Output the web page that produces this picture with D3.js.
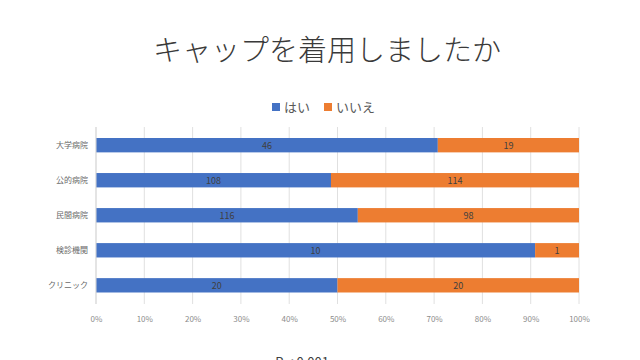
<!DOCTYPE html>
<html><head><meta charset="utf-8">
<script src="https://cdn.jsdelivr.net/npm/d3@7"></script>
<style>body{margin:0;background:#fff}svg{display:block}</style>
</head><body>
<svg id="c" width="640" height="360"></svg>
<script>
const categories = ["大学病院","公的病院","民間病院","検診機関","クリニック"];
const yesValues = [46,108,116,10,20];
const noValues = [19,114,98,1,20];
const seriesNames = ["はい","いいえ"];
const tickValues = [0,0.1,0.2,0.3,0.4,0.5,0.6,0.7,0.8,0.9,1.0];
const title = "キャップを着用しましたか";
const note = "P < 0.001";

const colors = ["#4472C4","#ED7D31"];
const font = "'Noto Sans CJK JP','Noto Sans',sans-serif";
const svg = d3.select("#c").style("font-family", font);

const x = d3.scaleLinear().domain([0,1]).range([96,579]);
const y = d3.scaleBand().domain(categories).range([127.5,303]).paddingInner(0.59).paddingOuter(0.3);

svg.append("text").attr("x",327).attr("y",61).attr("text-anchor","middle")
  .attr("font-family","'Noto Sans CJK JP Light','Noto Sans CJK JP DemiLight','Noto Sans CJK JP',sans-serif")
  .attr("font-size",29).attr("font-weight",300).attr("fill","#3a3a3a").text(title);

// legend
const lg = svg.append("g");
[[272,0],[324,1]].forEach(([lx,i])=>{
  lg.append("rect").attr("x",lx).attr("y",103).attr("width",8).attr("height",8).attr("fill",colors[i]);
  lg.append("text").attr("x",lx+12).attr("y",112).attr("font-size",13).attr("fill","#595959").text(seriesNames[i]);
});

const xAxis = d3.axisBottom(x).tickValues(tickValues).tickFormat(d3.format(".0%")).tickSize(0).tickPadding(12);
const ga = svg.append("g").attr("transform","translate(0,304)").call(xAxis);
ga.select(".domain").remove();
ga.selectAll("text").attr("font-size",8).attr("fill","#8c8c8c").attr("font-family",font);
svg.append("g").selectAll("line").data(tickValues).join("line")
  .attr("x1",d=>x(d)).attr("x2",d=>x(d)).attr("y1",127).attr("y2",304)
  .attr("stroke","#e0e0e0").attr("stroke-width",1);

const rows = categories.map((c,i)=>{const t=yesValues[i]+noValues[i];return {c, segs:[{v:yesValues[i],x0:0,x1:yesValues[i]/t,k:0},{v:noValues[i],x0:yesValues[i]/t,x1:1,k:1}]};});
const g = svg.append("g");
rows.forEach(r=>{
  r.segs.forEach(s=>{
    g.append("rect").attr("x",x(s.x0)).attr("y",y(r.c)).attr("width",x(s.x1)-x(s.x0)).attr("height",y.bandwidth())
      .attr("fill",colors[s.k]);
    g.append("text").attr("x",(x(s.x0)+x(s.x1))/2).attr("y",y(r.c)+y.bandwidth()/2+3.5)
      .attr("text-anchor","middle").attr("font-size",9).attr("fill","#404040").text(s.v);
  });
});

svg.append("line").attr("x1",96).attr("x2",96).attr("y1",127).attr("y2",304).attr("stroke","#d9d9d9");
svg.append("g").selectAll("text").data(categories).join("text")
  .attr("x",88).attr("y",d=>y(d)+y.bandwidth()/2+3).attr("text-anchor","end")
  .attr("font-size",8).attr("fill","#6a6a6a").text(d=>d);

svg.append("text").attr("x",302).attr("y",367).attr("text-anchor","middle").attr("font-size",13).attr("fill","#404040").text(note);
</script>
</body></html>
